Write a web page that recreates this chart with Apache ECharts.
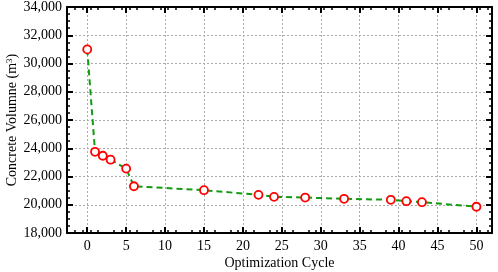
<!DOCTYPE html>
<html>
<head>
<meta charset="utf-8">
<script src="https://cdn.jsdelivr.net/npm/echarts@6/dist/echarts.min.js"></script>
<style>
  html, body { margin: 0; padding: 0; background: #fff; }
  #grafico { width: 498px; height: 272px; }
</style>
</head>
<body>
<div id="grafico"></div>
<script>
var ciclos = [0, 1, 2, 3, 5, 6, 15, 22, 24, 28, 33, 39, 41, 43, 50];
var volumes = [31000, 23750, 23470, 23190, 22560, 21310, 21030, 20700, 20560, 20510, 20420, 20350, 20250, 20180, 19860];
var fonte = 'Liberation Serif';

var myChart = echarts.init(document.getElementById('grafico'));

var pontos = [];
for (var i = 0; i < ciclos.length; i++) {
  pontos.push([ciclos[i], volumes[i]]);
}

var eixoPreto = { show: true, onZero: false, lineStyle: { color: '#000', width: 2 } };
var grade = { show: true, lineStyle: { color: '#aaa', type: [2, 2], width: 1 } };
var marcasX = [0, 5, 10, 15, 20, 25, 30, 35, 40, 45, 50];

var option = {
  animation: false,
  grid: { left: 67, right: 6, top: 7, bottom: 39, containLabel: false, outerBoundsMode: 'none' },
  xAxis: [
    {
      type: 'value',
      min: -2.6,
      max: 52,
      interval: 5,
      name: 'Optimization Cycle',
      nameLocation: 'middle',
      nameGap: 23,
      nameMoveOverlap: false,
      nameTextStyle: { fontFamily: fonte, fontSize: 14, color: '#000' },
      axisLine: eixoPreto,
      axisTick: { show: true, inside: true, length: 6, lineStyle: { color: '#000', width: 2 }, customValues: marcasX },
      minorTick: { show: true, splitNumber: 5, length: 3, lineStyle: { color: '#000', width: 1.5 } },
      axisLabel: { fontFamily: fonte, fontSize: 14, color: '#000', margin: 6, customValues: marcasX },
      splitLine: grade
    },
    {
      type: 'value',
      position: 'top',
      min: -2.6,
      max: 52,
      interval: 5,
      axisLine: eixoPreto,
      axisTick: { show: true, inside: true, length: 6, lineStyle: { color: '#000', width: 2 }, customValues: marcasX },
      minorTick: { show: true, splitNumber: 5, length: 3, lineStyle: { color: '#000', width: 1.5 } },
      axisLabel: { show: false },
      splitLine: { show: false }
    }
  ],
  yAxis: [
    {
      type: 'value',
      min: 18000,
      max: 34000,
      interval: 2000,
      name: '{a|Concrete Volumne (m}{s|3}{a|)}',
      nameLocation: 'middle',
      nameGap: 47,
      nameMoveOverlap: false,
      nameTextStyle: {
        rich: {
          a: { fontFamily: fonte, fontSize: 14, color: '#000' },
          s: { fontFamily: fonte, fontSize: 9, color: '#000', verticalAlign: 'top', padding: [0, 0, 6, 0] }
        }
      },
      axisLine: eixoPreto,
      axisTick: { show: true, inside: true, length: 6, lineStyle: { color: '#000', width: 2 } },
      minorTick: { show: true, splitNumber: 4, length: 3, lineStyle: { color: '#000', width: 1.5 } },
      axisLabel: {
        fontFamily: fonte, fontSize: 14, color: '#000', margin: 5,
        formatter: function (v) { return v.toLocaleString('en-US'); }
      },
      splitLine: grade
    },
    {
      type: 'value',
      position: 'right',
      min: 18000,
      max: 34000,
      interval: 2000,
      axisLine: eixoPreto,
      axisTick: { show: true, inside: true, length: 6, lineStyle: { color: '#000', width: 2 } },
      minorTick: { show: true, splitNumber: 4, length: 3, lineStyle: { color: '#000', width: 1.5 } },
      axisLabel: { show: false },
      splitLine: { show: false }
    }
  ],
  series: [
    {
      type: 'line',
      data: pontos,
      symbol: 'circle',
      symbolSize: 8,
      lineStyle: { color: '#129a12', width: 2, type: [6, 4] },
      itemStyle: { color: '#fff', borderColor: '#f00', borderWidth: 1.8 }
    }
  ]
};

myChart.setOption(option);
</script>
</body>
</html>
